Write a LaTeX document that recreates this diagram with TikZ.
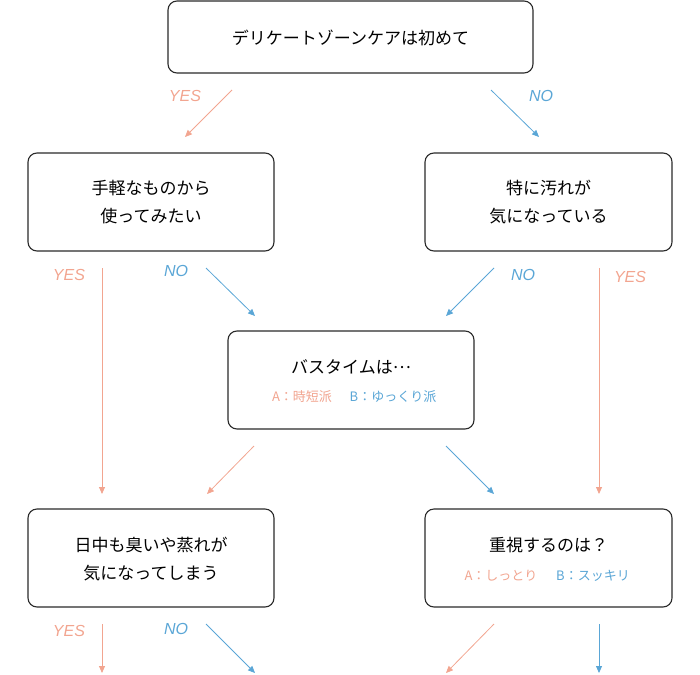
\documentclass[tikz,border=0pt]{standalone}
\usepackage{fontspec}
\usetikzlibrary{arrows.meta}
\newfontfamily\jpfont{Noto Sans CJK JP}
\newfontfamily\ynfont{Liberation Sans}
\definecolor{yescol}{HTML}{F2A590}
\definecolor{nocol}{HTML}{5AA6D6}
\definecolor{boxcol}{HTML}{2A2A2A}
\tikzset{
  qbox/.style={draw=boxcol, line width=1.1pt, rounded corners=9pt, fill=white},
  maintext/.style={font=\jpfont\fontsize{17}{28}\selectfont, text=black, align=center, inner sep=0pt},
  subtext/.style={font=\jpfont\fontsize{13}{14}\selectfont, inner sep=0pt},
  yesline/.style={draw=yescol, line width=0.8pt, -{Triangle[length=7pt,width=6pt]}},
  noline/.style={draw=nocol, line width=0.8pt, -{Triangle[length=7pt,width=6pt]}},
  yeslab/.style={font=\ynfont\itshape\fontsize{16}{16}\selectfont, text=yescol, inner sep=0pt},
  nolab/.style={font=\ynfont\itshape\fontsize{16}{16}\selectfont, text=nocol, inner sep=0pt},
}
\begin{document}
\begin{tikzpicture}[x=1pt,y=-1pt]
\useasboundingbox (0,0) rectangle (700,674);
% boxes
\draw[qbox] (168,1) rectangle (533,73);
\node[maintext] (t0) at (350.5,38) {デリケートゾーンケアは初めて};
\draw[qbox] (28,153) rectangle (274,251);
\node[maintext] (t1) at (151,202) {手軽なものから\\使ってみたい};
\draw[qbox] (425,153) rectangle (672,251);
\node[maintext] (t2) at (548.5,202) {特に汚れが\\気になっている};
\draw[qbox] (228,331) rectangle (474,429);
\node[maintext] (t3) at (351,367) {バスタイムは\raisebox{0.3em}{…}};
\node[subtext, text=yescol] (t3a) at (302,397) {A：時短派};
\node[subtext, text=nocol] (t3b) at (393,397) {B：ゆっくり派};
\draw[qbox] (28,509) rectangle (274,607);
\node[maintext] (t4) at (151,559) {日中も臭いや蒸れが\\気になってしまう};
\draw[qbox] (425,509) rectangle (672,607);
\node[maintext] (t5) at (548.5,545) {重視するのは？};
\node[subtext, text=yescol] (t5a) at (501,576) {A：しっとり};
\node[subtext, text=nocol] (t5b) at (593,576) {B：スッキリ};
% arrow coordinates
\coordinate (a1s) at (232,90); \coordinate (a1e) at (185,137);
\coordinate (a2s) at (491,90); \coordinate (a2e) at (539,137);
\coordinate (a3s) at (102,268); \coordinate (a3e) at (102,494);
\coordinate (a4s) at (206,268); \coordinate (a4e) at (255,316);
\coordinate (a5s) at (494,268); \coordinate (a5e) at (446,316);
\coordinate (a6s) at (599,268); \coordinate (a6e) at (599,494);
\coordinate (a7s) at (254,446); \coordinate (a7e) at (207,494);
\coordinate (a8s) at (446,446); \coordinate (a8e) at (494,494);
\coordinate (a9s) at (102,624); \coordinate (a9e) at (102,673);
\coordinate (a10s) at (206,624); \coordinate (a10e) at (255,673);
\coordinate (a11s) at (494,624); \coordinate (a11e) at (446,673);
\coordinate (a12s) at (599,624); \coordinate (a12e) at (599,673);
% arrows
\draw[yesline] (a1s) -- (a1e);
\draw[noline] (a2s) -- (a2e);
\draw[yesline] (a3s) -- (a3e);
\draw[noline] (a4s) -- (a4e);
\draw[noline] (a5s) -- (a5e);
\draw[yesline] (a6s) -- (a6e);
\draw[yesline] (a7s) -- (a7e);
\draw[noline] (a8s) -- (a8e);
\draw[yesline] (a9s) -- (a9e);
\draw[noline] (a10s) -- (a10e);
\draw[yesline] (a11s) -- (a11e);
\draw[noline] (a12s) -- (a12e);
% labels
\node[yeslab] (l1) at (185,96) {YES};
\node[nolab] (l2) at (541,96) {NO};
\node[yeslab] (l3) at (69,275) {YES};
\node[nolab] (l4) at (176,271) {NO};
\node[nolab] (l5) at (523,275) {NO};
\node[yeslab] (l6) at (630,277) {YES};
\node[yeslab] (l7) at (69,631) {YES};
\node[nolab] (l8) at (176,629) {NO};
\end{tikzpicture}
\end{document}
